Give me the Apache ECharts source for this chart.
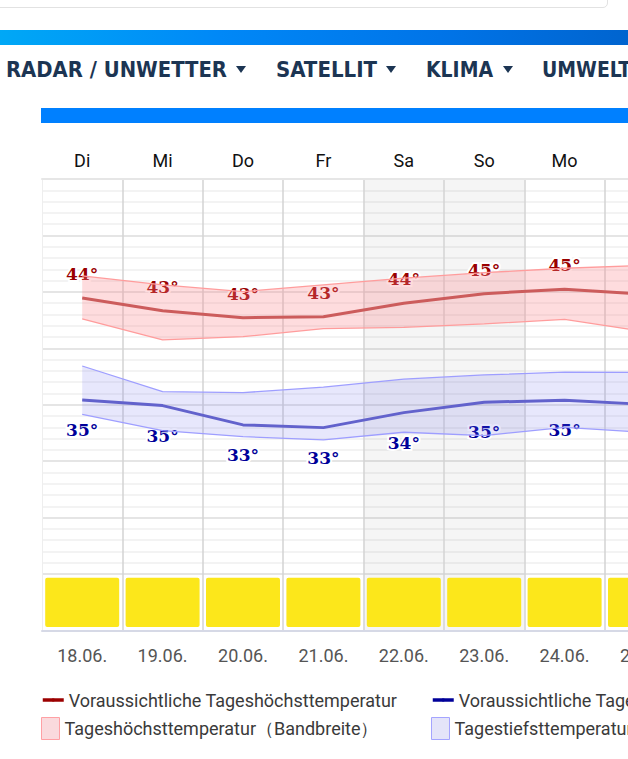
<!DOCTYPE html>
<html>
<head>
<meta charset="utf-8">
<script src="https://cdn.jsdelivr.net/npm/echarts@6/dist/echarts.min.js"></script>
<style>
html,body{margin:0;padding:0;width:628px;height:759px;overflow:hidden;background:#fff;}
#topbox{position:absolute;left:-10px;top:-20px;width:616px;height:26px;border:1px solid #e2e2e2;border-radius:5px;}
#grad{position:absolute;left:0;top:30px;width:628px;height:15px;background:linear-gradient(90deg,#00a8f6 0%,#0088f7 35%,#0074e8 70%,#0064cf 100%);}
.nav{position:absolute;top:60px;line-height:21px;font-family:"DejaVu Sans Condensed","DejaVu Sans",sans-serif;font-weight:bold;font-size:21px;color:#1c3553;white-space:nowrap;transform-origin:0 0;}
.tri{position:absolute;top:66px;width:0;height:0;border-left:5.5px solid transparent;border-right:5.5px solid transparent;border-top:7px solid #1c3553;}
#bluebar{position:absolute;left:41px;top:108px;width:700px;height:15px;background:#0080ff;}
#chart{position:absolute;left:0;top:0;width:700px;height:759px;}
</style>
</head>
<body>
<div id="topbox"></div>
<div id="grad"></div>
<span class="nav" id="n1" style="left:6px">RADAR / UNWETTER</span><div class="tri" style="left:236px"></div>
<span class="nav" id="n2" style="left:276px">SATELLIT</span><div class="tri" style="left:386px"></div>
<span class="nav" id="n3" style="left:426px">KLIMA</span><div class="tri" style="left:503px"></div>
<span class="nav" id="n4" style="left:542px">UMWELT</span>
<div id="bluebar"></div>
<div id="chart"></div>
<script>
// ---- data ----
const dayNames   = ['Di','Mi','Do','Fr','Sa','So','Mo','Di'];
const dates      = ['18.06.','19.06.','20.06.','21.06.','22.06.','23.06.','24.06.','25.06.'];
const hiMean     = [44.46, 43.33, 42.71, 42.80, 43.99, 44.84, 45.23, 44.78];
const hiBandHigh = [46.41, 45.61, 45.02, 45.61, 46.21, 46.70, 47.09, 47.35];
const hiBandLow  = [42.60, 40.74, 41.03, 41.74, 41.86, 42.16, 42.57, 41.47];
const loMean     = [35.42, 34.92, 33.21, 32.97, 34.30, 35.22, 35.40, 35.03];
const loBandHigh = [38.43, 36.16, 36.07, 36.55, 37.26, 37.64, 37.88, 37.86];
const loBandLow  = [34.15, 32.70, 32.17, 31.88, 32.56, 32.26, 33.00, 32.55];
const hiLabels   = [44, 43, 43, 43, 44, 45, 45, 45];
const loLabels   = [35, 35, 33, 33, 34, 35, 35, 35];
const weatherIcons = ['sonnig','sonnig','sonnig','sonnig','sonnig','sonnig','sonnig','sonnig'];

// ---- nav text fitting ----
(function(){
  const targets = {n1:221, n2:101, n3:67};
  let lastScale = 1;
  ['n1','n2','n3'].forEach(id=>{
    const el=document.getElementById(id);
    const w=el.getBoundingClientRect().width;
    lastScale = targets[id]/w;
    el.style.transform='scaleX('+lastScale+')';
  });
  document.getElementById('n4').style.transform='scaleX('+lastScale+')';
})();

const NAME_HI = 'Voraussichtliche Tageshöchsttemperatur';
const NAME_LO = 'Voraussichtliche Tagestiefsttemperatur';
const NAME_HIB = 'Tageshöchsttemperatur（Bandbreite）';
const NAME_LOB = 'Tagestiefsttemperatur（Bandbreite）';

const weekendColors = dayNames.map(d => (d==='Sa'||d==='So') ? 'rgba(0,0,0,0.04)' : 'rgba(0,0,0,0)');
const colW = 80.4;
const gridW = colW * dayNames.length;

const chart = echarts.init(document.getElementById('chart'), null, {renderer:'svg'});
const labelFont = {fontFamily:'"DejaVu Serif","Liberation Serif",serif', fontWeight:'bold', fontSize:17};
const legendText = {fontFamily:'Roboto, sans-serif', fontSize:18, color:'#3a3a3a', lineHeight:20};

function labelSeries(name, values, labels, dy, color, halo){
  return {name:name, type:'scatter', xAxisIndex:0, yAxisIndex:0, data:values, symbolSize:1,
    itemStyle:{color:'rgba(0,0,0,0)', opacity:1}, silent:true,
    label:Object.assign({show:true, position:'inside', offset:[0,dy], color:color, opacity:1,
      textBorderColor: halo ? '#ffffff' : 'transparent', textBorderWidth: halo ? 4 : 0,
      formatter:p=>labels[p.dataIndex]+'°'}, labelFont)};
}

chart.setOption({
  animation:false,
  backgroundColor:'transparent',
  grid:[
    {left:42, top:179, width:gridW, height:395, outerBoundsMode:'none', containLabel:false},
    {left:42, top:574, width:gridW, height:56.7, outerBoundsMode:'none', containLabel:false}
  ],
  xAxis:[
    {gridIndex:0, type:'category', position:'top', data:dayNames, boundaryGap:true,
     axisLine:{show:true, lineStyle:{color:'#e6e6e6', width:2}},
     axisTick:{show:false},
     axisLabel:{interval:0, margin:10, color:'#111', fontSize:18, fontFamily:'Roboto, sans-serif'},
     splitLine:{show:true, interval:(i)=>i>0, lineStyle:{color:'#d3d3d3', width:1.5}},
     splitArea:{show:true, interval:0, areaStyle:{color:weekendColors}}},
    {gridIndex:1, type:'category', position:'bottom', data:dates, boundaryGap:true,
     axisLine:{show:true, lineStyle:{color:'#d6d9e6', width:2}},
     axisTick:{show:false},
     axisLabel:{interval:0, margin:16, color:'#555', fontSize:18, fontFamily:'Roboto, sans-serif'},
     splitLine:{show:true, interval:(i)=>i>0, lineStyle:{color:'#d3d3d3', width:1.5}},
     splitArea:{show:true, interval:0, areaStyle:{color:weekendColors}}}
  ],
  yAxis:[
    {gridIndex:0, type:'value', min:20, max:55, interval:5,
     axisLabel:{show:false}, axisTick:{show:false},
     axisLine:{show:true, lineStyle:{color:'#eeeeee', width:1}},
     splitLine:{show:true, lineStyle:{color:'#e5e5e5', width:2}},
     minorTick:{show:false, splitNumber:5},
     minorSplitLine:{show:true, lineStyle:{color:'#efefef', width:1.5}}},
    {gridIndex:1, type:'value', min:0, max:1,
     axisLabel:{show:false}, axisTick:{show:false},
     axisLine:{show:true, lineStyle:{color:'#eeeeee', width:1}},
     splitLine:{show:false}}
  ],
  legend:[
    {left:41, top:690, padding:0, selectedMode:false, itemWidth:21, itemHeight:4, itemGap:0,
     textStyle:legendText,
     data:[{name:NAME_HI, itemStyle:{color:'#9b0000'}, lineStyle:{color:'#9b0000', width:3.5}}]},
    {left:41, top:717, padding:0, selectedMode:false, itemWidth:18, itemHeight:22, itemGap:0,
     textStyle:legendText,
     data:[{name:NAME_HIB, icon:'rect', itemStyle:{color:'#fadadd', borderColor:'#ffa0a4', borderWidth:1}}]},
    {left:431, top:690, padding:0, selectedMode:false, itemWidth:21, itemHeight:4, itemGap:0,
     textStyle:legendText,
     data:[{name:NAME_LO, itemStyle:{color:'#000099'}, lineStyle:{color:'#000099', width:3.5}}]},
    {left:431, top:717, padding:0, selectedMode:false, itemWidth:18, itemHeight:22, itemGap:0,
     textStyle:legendText,
     data:[{name:NAME_LOB, icon:'rect', itemStyle:{color:'#e4e4f9', borderColor:'#a4a4ff', borderWidth:1}}]}
  ],
  series:[
    {name:'hiBase', type:'line', xAxisIndex:0, yAxisIndex:0, stack:'hi', data:hiBandLow,
     symbol:'none', silent:true, lineStyle:{color:'#ff9c9c', width:1.3}},
    {name:NAME_HIB, type:'line', xAxisIndex:0, yAxisIndex:0, stack:'hi',
     data:hiBandHigh.map((v,i)=>+(v-hiBandLow[i]).toFixed(2)),
     symbol:'none', silent:true, color:'#ff9c9c', lineStyle:{color:'#ff9c9c', width:1.3},
     areaStyle:{color:'rgba(250,135,140,0.29)', opacity:1}},
    {name:'loBase', type:'line', xAxisIndex:0, yAxisIndex:0, stack:'lo', data:loBandLow,
     symbol:'none', silent:true, lineStyle:{color:'#9e9eff', width:1.3}},
    {name:NAME_LOB, type:'line', xAxisIndex:0, yAxisIndex:0, stack:'lo',
     data:loBandHigh.map((v,i)=>+(v-loBandLow[i]).toFixed(2)),
     symbol:'none', silent:true, color:'#9e9eff', lineStyle:{color:'#9e9eff', width:1.3},
     areaStyle:{color:'rgba(115,115,240,0.17)', opacity:1}},
    {name:NAME_HI, type:'line', xAxisIndex:0, yAxisIndex:0, data:hiMean,
     symbol:'none', silent:true, color:'#cc5c5c', lineStyle:{color:'#cc5c5c', width:3}},
    {name:NAME_LO, type:'line', xAxisIndex:0, yAxisIndex:0, data:loMean,
     symbol:'none', silent:true, color:'#6262cc', lineStyle:{color:'#6262cc', width:3}},
    labelSeries('hiHalo', hiMean, hiLabels, -24, '#ffffff', true),
    labelSeries('loHalo', loMean, loLabels, 30, '#ffffff', true),
    labelSeries('hiLbl', hiMean, hiLabels, -24, '#990000', false),
    labelSeries('loLbl', loMean, loLabels, 30, '#000099', false),
    {name:'wetter', type:'pictorialBar', xAxisIndex:1, yAxisIndex:1,
     data:weatherIcons.map(()=>1), silent:true,
     symbol:'path://M2,0H72Q74,0,74,2V47Q74,49,72,49H2Q0,49,0,47V2Q0,0,2,0Z',
     symbolSize:[74,49], symbolPosition:'center', symbolRepeat:false,
     itemStyle:{color:'#fce71b'}}
  ]
});
</script>
</body>
</html>
